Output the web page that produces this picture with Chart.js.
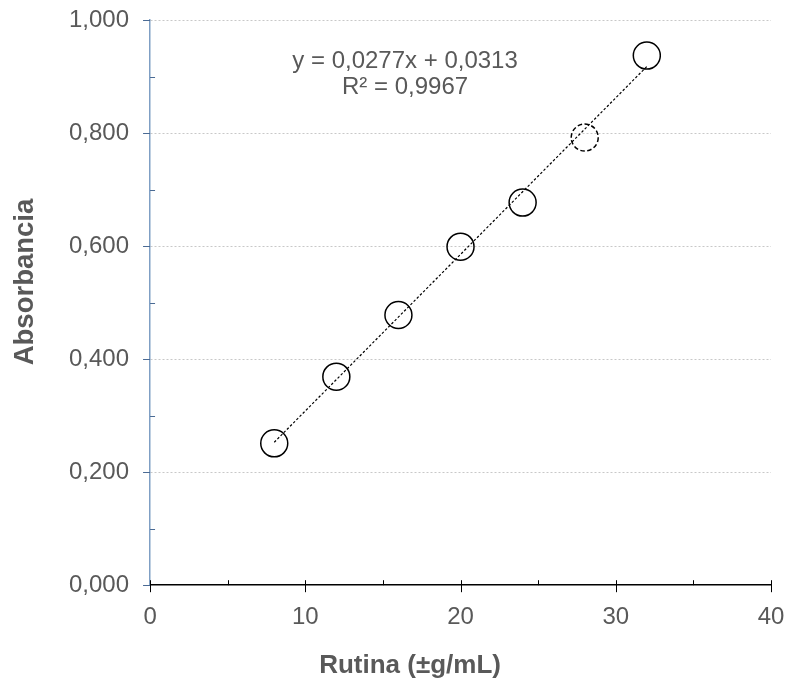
<!DOCTYPE html>
<html>
<head>
<meta charset="utf-8">
<script src="https://cdn.jsdelivr.net/npm/chart.js@4.4.1/dist/chart.umd.min.js"></script>
<style>
  html, body { margin: 0; padding: 0; background: #fff; }
  #wrap { width: 789px; height: 684px; }
</style>
</head>
<body>
<div id="wrap"><canvas id="curva"></canvas></div>
<script>
// curva de calibración de rutina
const concentracao = [8, 12, 16, 20, 24, 28, 32];
const absorbancia = [0.251, 0.369, 0.478, 0.599, 0.677, 0.792, 0.937];
const atipicos = [28];          // punto marcado con círculo discontinuo
const pendiente = 0.0277;
const intercepto = 0.0313;
const r2 = 0.9967;

const GRIS = '#595959';
const FUENTE = "'Liberation Sans', Arial, sans-serif";
const coma = (v, d) => v.toFixed(d).replace('.', ',');
const esAtipico = ctx => !!(ctx.raw && atipicos.includes(ctx.raw.x));

// recta de ajuste entre el primer y el último patrón
const xIni = concentracao[0];
const xFin = concentracao[concentracao.length - 1];
const recta = [
  { x: xIni, y: pendiente * xIni + intercepto },
  { x: xFin, y: pendiente * xFin + intercepto }
];

function linea(ctx, x1, y1, x2, y2) {
  ctx.beginPath();
  ctx.moveTo(x1, y1);
  ctx.lineTo(x2, y2);
  ctx.stroke();
}

// marcas de los ejes, títulos, ecuación y punto atípico
const extras = {
  id: 'extras',
  afterDatasetsDraw(chart) {
    // círculo discontinuo en la posición del punto atípico
    const { ctx } = chart;
    const meta = chart.getDatasetMeta(1);
    ctx.save();
    ctx.strokeStyle = '#000';
    ctx.lineWidth = 1.5;
    ctx.setLineDash([4.5, 2.5]);
    meta.data.forEach((el, i) => {
      if (!atipicos.includes(concentracao[i])) return;
      ctx.beginPath();
      ctx.arc(el.x, el.y, el.options.radius, 0, Math.PI * 2);
      ctx.stroke();
    });
    ctx.restore();
  },
  afterDraw(chart) {
    const { ctx, chartArea: a, scales: { x, y } } = chart;
    const px = v => Math.round(v) + 0.5;
    ctx.save();

    // eje y: principales hacia fuera, secundarias hacia dentro
    ctx.strokeStyle = '#4a6a94';
    ctx.lineWidth = 1;
    y.ticks.forEach((t, i) => {
      const p = px(y.getPixelForValue(t.value));
      linea(ctx, a.left - 7, p, a.left, p);
      if (i > 0) {
        const m = px(y.getPixelForValue((t.value + y.ticks[i - 1].value) / 2));
        linea(ctx, a.left, m, a.left + 5, m);
      }
    });

    // eje x: principales cruzan, secundarias hacia arriba
    ctx.strokeStyle = '#000';
    x.ticks.forEach((t, i) => {
      const p = px(x.getPixelForValue(t.value));
      linea(ctx, p, a.bottom - 5, p, a.bottom + 7);
      if (i > 0) {
        const m = px(x.getPixelForValue((t.value + x.ticks[i - 1].value) / 2));
        linea(ctx, m, a.bottom - 5, m, a.bottom);
      }
    });

    // títulos de los ejes
    ctx.fillStyle = GRIS;
    ctx.textAlign = 'center';
    ctx.textBaseline = 'alphabetic';
    ctx.font = 'bold 26px ' + FUENTE;
    ctx.fillText('Rutina (±g/mL)', a.left + 260, 673);
    ctx.save();
    ctx.font = 'bold 27.5px ' + FUENTE;
    ctx.translate(33, a.top + 262);
    ctx.rotate(-Math.PI / 2);
    ctx.fillText('Absorbancia', 0, 0);
    ctx.restore();

    // ecuación de la recta
    ctx.font = '24px ' + FUENTE;
    ctx.fillText('y = ' + coma(pendiente, 4) + 'x + ' + coma(intercepto, 4), a.left + 255, a.top + 48);
    ctx.fillText('R² = ' + coma(r2, 4), a.left + 255, a.top + 74);
    ctx.restore();
  }
};

new Chart(document.getElementById('curva'), {
  type: 'scatter',
  data: {
    datasets: [
      {
        label: 'Lineal',
        type: 'line',
        data: recta,
        borderColor: '#000',
        borderWidth: 1.2,
        borderDash: [2.5, 2],
        pointRadius: 0,
        fill: false
      },
      {
        label: 'Absorbancia',
        data: concentracao.map((c, i) => ({ x: c, y: absorbancia[i] })),
        pointRadius: 13.5,
        pointBorderWidth: 1.5,
        pointBorderColor: ctx => esAtipico(ctx) ? 'rgba(0,0,0,0)' : '#000',
        pointBackgroundColor: 'rgba(0,0,0,0)',
        pointStyle: 'circle'
      }
    ]
  },
  options: {
    responsive: true,
    maintainAspectRatio: false,
    animation: false,
    layout: { autoPadding: false, padding: { left: 48, right: 18, top: 20, bottom: 35 } },
    plugins: {
      legend: { display: false },
      tooltip: { enabled: false }
    },
    scales: {
      x: {
        type: 'linear',
        min: 0,
        max: 40,
        ticks: {
          stepSize: 10,
          padding: 17.5,
          color: GRIS,
          font: { family: FUENTE, size: 24 }
        },
        grid: { display: false, drawTicks: false },
        border: { display: true, color: '#000', width: 1.5 },
        // los márgenes los fija layout.padding
        afterFit: s => { s.paddingLeft = 0; s.paddingRight = 0; }
      },
      y: {
        min: 0,
        max: 1,
        ticks: {
          stepSize: 0.2,
          padding: 21,
          color: GRIS,
          font: { family: FUENTE, size: 24 },
          callback: v => coma(v, 3)
        },
        grid: {
          drawTicks: false,
          color: c => c.tick && c.tick.value === 0 ? 'rgba(0,0,0,0)' : '#c8c8c8',
          lineWidth: 1
        },
        border: { display: true, color: '#7f9fc4', width: 1.5, dash: [2, 2] },
        afterFit: s => { s.paddingTop = 0; s.paddingBottom = 0; }
      }
    }
  },
  plugins: [extras]
});
</script>
</body>
</html>
